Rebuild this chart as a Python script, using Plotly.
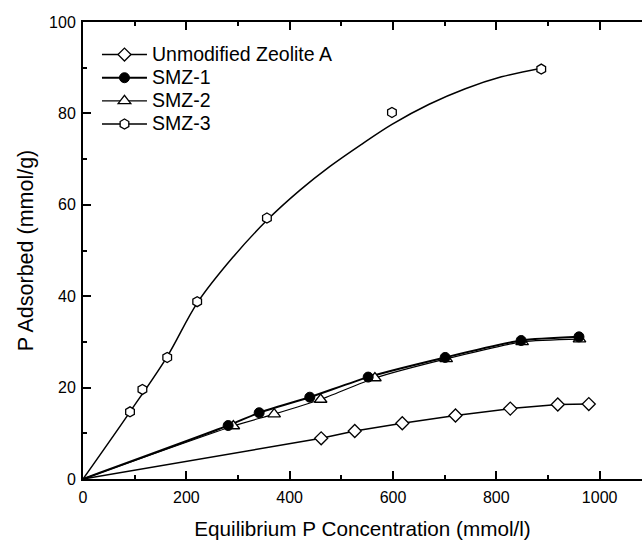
import plotly.graph_objects as go

# ---- data ----
unmod_x = [461, 526, 618, 721, 827, 919, 979]
unmod_y = [8.9, 10.5, 12.2, 13.9, 15.4, 16.3, 16.4]

smz1_x = [281, 341, 439, 552, 701, 848, 960]
smz1_y = [11.7, 14.5, 17.9, 22.3, 26.6, 30.3, 31.1]

smz2_x = [291, 370, 460, 565, 703, 850, 961]
smz2_y = [11.6, 14.2, 17.4, 22.1, 26.3, 30.0, 30.6]

smz3_x = [91, 115, 163, 221, 356, 598, 887]
smz3_y = [14.7, 19.6, 26.6, 38.8, 57.1, 80.2, 89.7]

# fitted curve for SMZ-3 as drawn in the reference
smz3_fit_x = [0, 91, 163, 221, 290, 356, 420, 478, 540, 598, 670, 740, 810, 887]
smz3_fit_y = [0, 14.7, 26.8, 38.5, 48.5, 56.6, 63.2, 68.4, 73.3, 77.6, 82.0, 85.4, 88.0, 89.9]

origin_x = [0]
origin_y = [0]

series_names = ["Unmodified Zeolite A", "SMZ-1", "SMZ-2", "SMZ-3"]
x_ticks = [0, 200, 400, 600, 800, 1000]
y_ticks = [0, 20, 40, 60, 80, 100]

FONT = "Arial, Liberation Sans, Helvetica, sans-serif"
W, H = 642, 541

fig = go.Figure()

# ---- curves ----
fig.add_trace(go.Scatter(x=origin_x + unmod_x, y=origin_y + unmod_y, mode="lines",
                         line=dict(color="black", width=1.5), showlegend=False, hoverinfo="skip"))
fig.add_trace(go.Scatter(x=origin_x + smz2_x, y=origin_y + smz2_y, mode="lines",
                         line=dict(color="black", width=1.2, shape="spline", smoothing=0.6),
                         showlegend=False, hoverinfo="skip"))
fig.add_trace(go.Scatter(x=origin_x + smz1_x, y=origin_y + smz1_y, mode="lines",
                         line=dict(color="black", width=2, shape="spline", smoothing=0.6),
                         showlegend=False, hoverinfo="skip"))
fig.add_trace(go.Scatter(x=smz3_fit_x, y=smz3_fit_y, mode="lines",
                         line=dict(color="black", width=1.5, shape="spline", smoothing=1.0),
                         showlegend=False, hoverinfo="skip"))

# ---- markers ----
mk = {
    "Unmodified Zeolite A": dict(symbol="diamond", size=10, color="white", line=dict(color="black", width=1.3)),
    "SMZ-1": dict(symbol="circle", size=10, color="black", line=dict(color="black", width=1)),
    "SMZ-2": dict(symbol="triangle-up", size=11, color="white", line=dict(color="black", width=1.3)),
    "SMZ-3": dict(symbol="hexagon", size=10, color="white", line=dict(color="black", width=1.3)),
}
lw = {"Unmodified Zeolite A": 1.5, "SMZ-1": 2, "SMZ-2": 1.2, "SMZ-3": 1.5}
pts = {
    "Unmodified Zeolite A": (unmod_x, unmod_y),
    "SMZ-1": (smz1_x, smz1_y),
    "SMZ-2": (smz2_x, smz2_y),
    "SMZ-3": (smz3_x, smz3_y),
}
for name in ["SMZ-3", "Unmodified Zeolite A", "SMZ-2", "SMZ-1"]:
    xs, ys = pts[name]
    fig.add_trace(go.Scatter(x=xs, y=ys, mode="markers", marker=mk[name],
                             showlegend=False, name=name))

# ---- legend-only entries ----
for name in series_names:
    fig.add_trace(go.Scatter(x=[None], y=[None], mode="lines+markers",
                             name='<span style="font-size:19.5px">' + name + '</span>',
                             marker=mk[name], line=dict(color="black", width=lw[name])))

fig.update_layout(
    width=W, height=H,
    margin=dict(l=83, r=0, t=22, b=62),
    paper_bgcolor="white", plot_bgcolor="white",
    font=dict(family=FONT, color="black", size=16),
    showlegend=True,
    legend=dict(x=0.025, y=0.965, xanchor="left", yanchor="top",
                bgcolor="rgba(0,0,0,0)", borderwidth=0,
                font=dict(family=FONT, size=15.5, color="black"),
                itemwidth=45, tracegroupgap=0),
    xaxis=dict(range=[0, 1082], tickvals=x_ticks, ticks="inside", ticklen=8, tickwidth=1.5,
               tickcolor="black", showline=True, linecolor="black", linewidth=2,
               mirror="ticks", showgrid=False, zeroline=False,
               minor=dict(dtick=100, ticks="inside", ticklen=4, tickwidth=1.5, tickcolor="black"),
               tickfont=dict(size=16), ticklabelstandoff=3,
               title=dict(text="Equilibrium P Concentration (mmol/l)", font=dict(size=20.7), standoff=16)),
    yaxis=dict(range=[0, 100], tickvals=y_ticks, ticks="inside", ticklen=8, tickwidth=1.5,
               tickcolor="black", showline=True, linecolor="black", linewidth=2,
               showgrid=False, zeroline=False,
               minor=dict(dtick=10, ticks="inside", ticklen=4, tickwidth=1.5, tickcolor="black"),
               tickfont=dict(size=16), ticklabelstandoff=2,
               title=dict(text="P Adsorbed (mmol/g)", font=dict(size=21.5), standoff=10)),
)

fig.write_html("out.html")
